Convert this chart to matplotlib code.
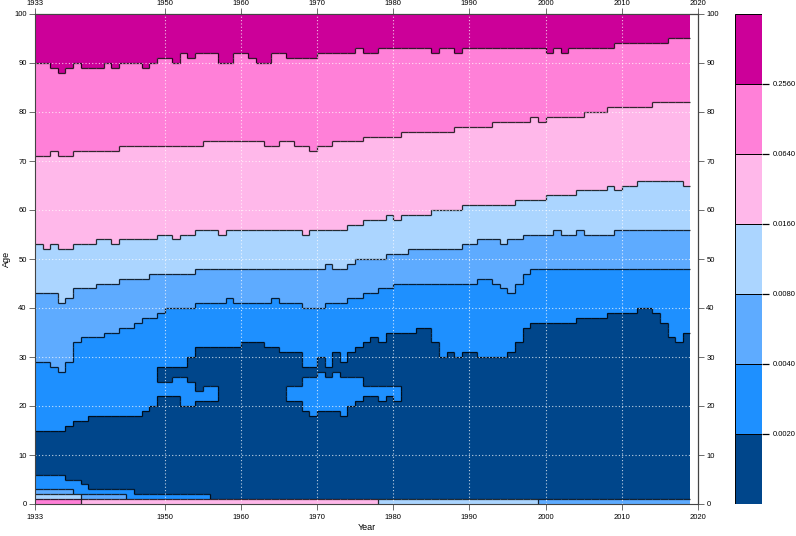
import numpy as np
import matplotlib
matplotlib.use("Agg")
import matplotlib.pyplot as plt
from matplotlib.colors import ListedColormap, BoundaryNorm
from matplotlib.collections import LineCollection

plt.rcParams["font.family"] = ["Liberation Sans", "DejaVu Sans"]

# years shown as columns [y, y+1), ages as rows [a, a+1)
YEARS = np.arange(1933, 2019)
AGES = np.arange(0, 100)

LEVEL_LABELS = ["0.0020", "0.0040", "0.0080", "0.0160", "0.0640", "0.2560"]
COLORS = ["#00468B", "#1E90FF", "#5EABFF", "#ABD5FF", "#FFB8EA", "#FF80D8", "#CC0099"]

# step lists: (first year, age where the class starts)
B256 = [(1933, 90), (1935, 89), (1936, 88), (1937, 89), (1938, 90), (1939, 89), (1942, 90),
        (1943, 89), (1944, 90), (1947, 89), (1948, 90), (1949, 91), (1951, 90), (1952, 92),
        (1953, 91), (1954, 92), (1957, 90), (1959, 92), (1961, 91), (1962, 90), (1964, 92),
        (1966, 91), (1970, 92), (1975, 93), (1976, 92), (1978, 93), (1985, 92), (1986, 93),
        (1988, 92), (1989, 93), (2000, 92), (2001, 93), (2002, 92), (2003, 93), (2009, 94),
        (2016, 95)]
B064 = [(1933, 71), (1935, 72), (1936, 71), (1938, 72), (1944, 73), (1955, 74), (1963, 73),
        (1965, 74), (1967, 73), (1969, 72), (1970, 73), (1972, 74), (1976, 75), (1981, 76),
        (1988, 77), (1993, 78), (1998, 79), (1999, 78), (2000, 79), (2005, 80), (2008, 81),
        (2014, 82)]
B016 = [(1933, 53), (1934, 52), (1935, 53), (1936, 52), (1938, 53), (1941, 54), (1943, 53),
        (1944, 54), (1949, 55), (1951, 54), (1952, 55), (1954, 56), (1957, 55), (1958, 56),
        (1968, 55), (1969, 56), (1974, 57), (1976, 58), (1979, 59), (1980, 58), (1981, 59),
        (1985, 60), (1989, 61), (1996, 62), (2000, 63), (2004, 64), (2008, 65), (2009, 64),
        (2010, 65), (2012, 66), (2018, 65)]
B008 = [(1933, 43), (1936, 41), (1937, 42), (1938, 44), (1941, 45), (1944, 46), (1948, 47),
        (1954, 48), (1971, 49), (1972, 48), (1974, 49), (1975, 50), (1979, 51), (1982, 52),
        (1989, 53), (1991, 54), (1994, 53), (1995, 54), (1997, 55), (2001, 56), (2002, 55),
        (2004, 56), (2005, 55), (2009, 56)]
B004 = [(1933, 29), (1935, 28), (1936, 27), (1937, 29), (1938, 33), (1939, 34), (1942, 35),
        (1944, 36), (1946, 37), (1947, 38), (1949, 39), (1950, 40), (1954, 41), (1958, 42),
        (1959, 41), (1964, 42), (1965, 41), (1968, 40), (1971, 41), (1974, 42), (1976, 43),
        (1978, 44), (1980, 45), (1991, 46), (1993, 45), (1994, 44), (1995, 43), (1996, 45),
        (1997, 47), (1998, 48)]
# top of the dark (<0.002) block
B002 = [(1933, 15), (1937, 16), (1938, 17), (1940, 18), (1947, 19), (1948, 20), (1949, 28),
        (1953, 30), (1954, 32), (1960, 33), (1963, 32), (1965, 31), (1968, 28), (1970, 30),
        (1971, 28), (1972, 31), (1973, 29), (1974, 31), (1975, 32), (1976, 33), (1977, 34),
        (1978, 33), (1979, 35), (1983, 36), (1985, 33), (1986, 30), (1987, 31), (1988, 30),
        (1989, 31), (1991, 30), (1995, 31), (1996, 33), (1997, 36), (1998, 37), (2004, 38),
        (2008, 39), (2012, 40), (2014, 39), (2015, 37), (2016, 34), (2017, 33), (2018, 35)]
# young-adult pockets above 0.002 inside the dark block: (year, from age, to age)
POCKETS = [(1949, 22, 25), (1950, 22, 25), (1951, 22, 26), (1952, 20, 26), (1953, 20, 25),
           (1954, 21, 23), (1955, 21, 24), (1956, 21, 24),
           (1966, 21, 24), (1967, 21, 24), (1968, 19, 26), (1969, 18, 26), (1970, 19, 27),
           (1971, 19, 26), (1972, 19, 27), (1973, 18, 26), (1974, 20, 26), (1975, 21, 26),
           (1976, 22, 24), (1977, 22, 24), (1978, 21, 24), (1979, 22, 24), (1980, 21, 24)]
# childhood ages
CHILD_TOP = [(1933, 6), (1937, 5), (1939, 4), (1940, 3), (1946, 2), (1956, 1)]
AGE0 = [(1933, 5), (1939, 4), (1978, 3), (1999, 2)]
AGE1 = [(1933, 3), (1939, 2), (1945, 1), (1956, 0)]
AGE2 = [(1933, 2), (1938, 1), (1946, 0)]


def step(lst, yr):
    val = lst[0][1]
    for y0, v in lst:
        if yr >= y0:
            val = v
    return val


pocket = {y: (lo, hi) for y, lo, hi in POCKETS}
Z = np.zeros((len(AGES), len(YEARS)), dtype=int)
for j, yr in enumerate(YEARS):
    for i, a in enumerate(AGES):
        lev = 0 if a < step(B002, yr) else 1
        if yr in pocket and pocket[yr][0] <= a < pocket[yr][1]:
            lev = 1
        if 1 <= a < step(CHILD_TOP, yr):
            lev = max(lev, 1)
        for k, b in enumerate([B004, B008, B016, B064, B256]):
            if a >= step(b, yr):
                lev = k + 2
        if a == 0:
            lev = step(AGE0, yr)
        elif a == 1:
            lev = step(AGE1, yr)
        elif a == 2:
            lev = step(AGE2, yr)
        Z[i, j] = lev

cmap = ListedColormap(COLORS)
norm = BoundaryNorm(np.arange(-0.5, 7.5), cmap.N)

fig = plt.figure(figsize=(7.96, 5.36), dpi=100)
ax = fig.add_axes([35 / 796, 32 / 536, 663 / 796, 490 / 536])
xe = np.append(YEARS, YEARS[-1] + 1)
ye = np.append(AGES, AGES[-1] + 1)
ax.pcolormesh(xe, ye, Z, cmap=cmap, norm=norm, shading="flat")

# outlines where the class changes
segs = []
for i in range(len(AGES)):
    for j in range(len(YEARS)):
        if i + 1 < len(AGES) and Z[i, j] != Z[i + 1, j]:
            segs.append([(xe[j], ye[i + 1]), (xe[j + 1], ye[i + 1])])
        if j + 1 < len(YEARS) and Z[i, j] != Z[i, j + 1]:
            segs.append([(xe[j + 1], ye[i]), (xe[j + 1], ye[i + 1])])
ax.add_collection(LineCollection(segs, colors="black", linewidths=0.9, alpha=0.8))

for x in [1950, 1960, 1970, 1980, 1990, 2000, 2010]:
    ax.axvline(x, color="white", lw=0.8, ls=(0, (1, 2)), alpha=0.75)
for y in range(10, 100, 10):
    ax.axhline(y, color="white", lw=0.8, ls=(0, (1, 2)), alpha=0.75)

xt = [1933, 1950, 1960, 1970, 1980, 1990, 2000, 2010, 2020]
yt = list(range(0, 101, 10))
ax.set_xlim(1933, 2020)
ax.set_ylim(0, 100)
ax.set_xticks(xt)
ax.set_yticks(yt)
ax.tick_params(labelsize=5.5, length=4, width=0.6, color="#555555", direction="out", pad=3)
ax.tick_params(axis="y", pad=2)
for s in ax.spines.values():
    s.set_color("#444444")
    s.set_linewidth(0.8)
ax.set_xlabel("Year", fontsize=6.5, labelpad=2)
ax.set_ylabel("Age", fontsize=6.5, labelpad=2)

top = ax.secondary_xaxis("top")
top.set_xticks(xt)
top.tick_params(labelsize=5.5, length=4, width=0.6, color="#555555", pad=1)
right = ax.secondary_yaxis("right")
right.set_yticks(yt)
right.tick_params(labelsize=5.5, length=4, width=0.6, color="#555555", pad=2)

# colour key
cax = fig.add_axes([735 / 796, 32 / 536, 27 / 796, 490 / 536])
for k, c in enumerate(COLORS):
    cax.add_patch(plt.Rectangle((0, k), 1, 1, facecolor=c, edgecolor="black", lw=0.7))
cax.set_xlim(0, 1)
cax.set_ylim(0, 7)
cax.set_xticks([])
cax.yaxis.tick_right()
cax.set_yticks(range(1, 7))
cax.set_yticklabels(LEVEL_LABELS)
cax.tick_params(axis="y", labelsize=5.5, length=5, width=0.9, color="black", pad=3)
for s in cax.spines.values():
    s.set_visible(False)

fig.savefig("out.png", dpi=100)
